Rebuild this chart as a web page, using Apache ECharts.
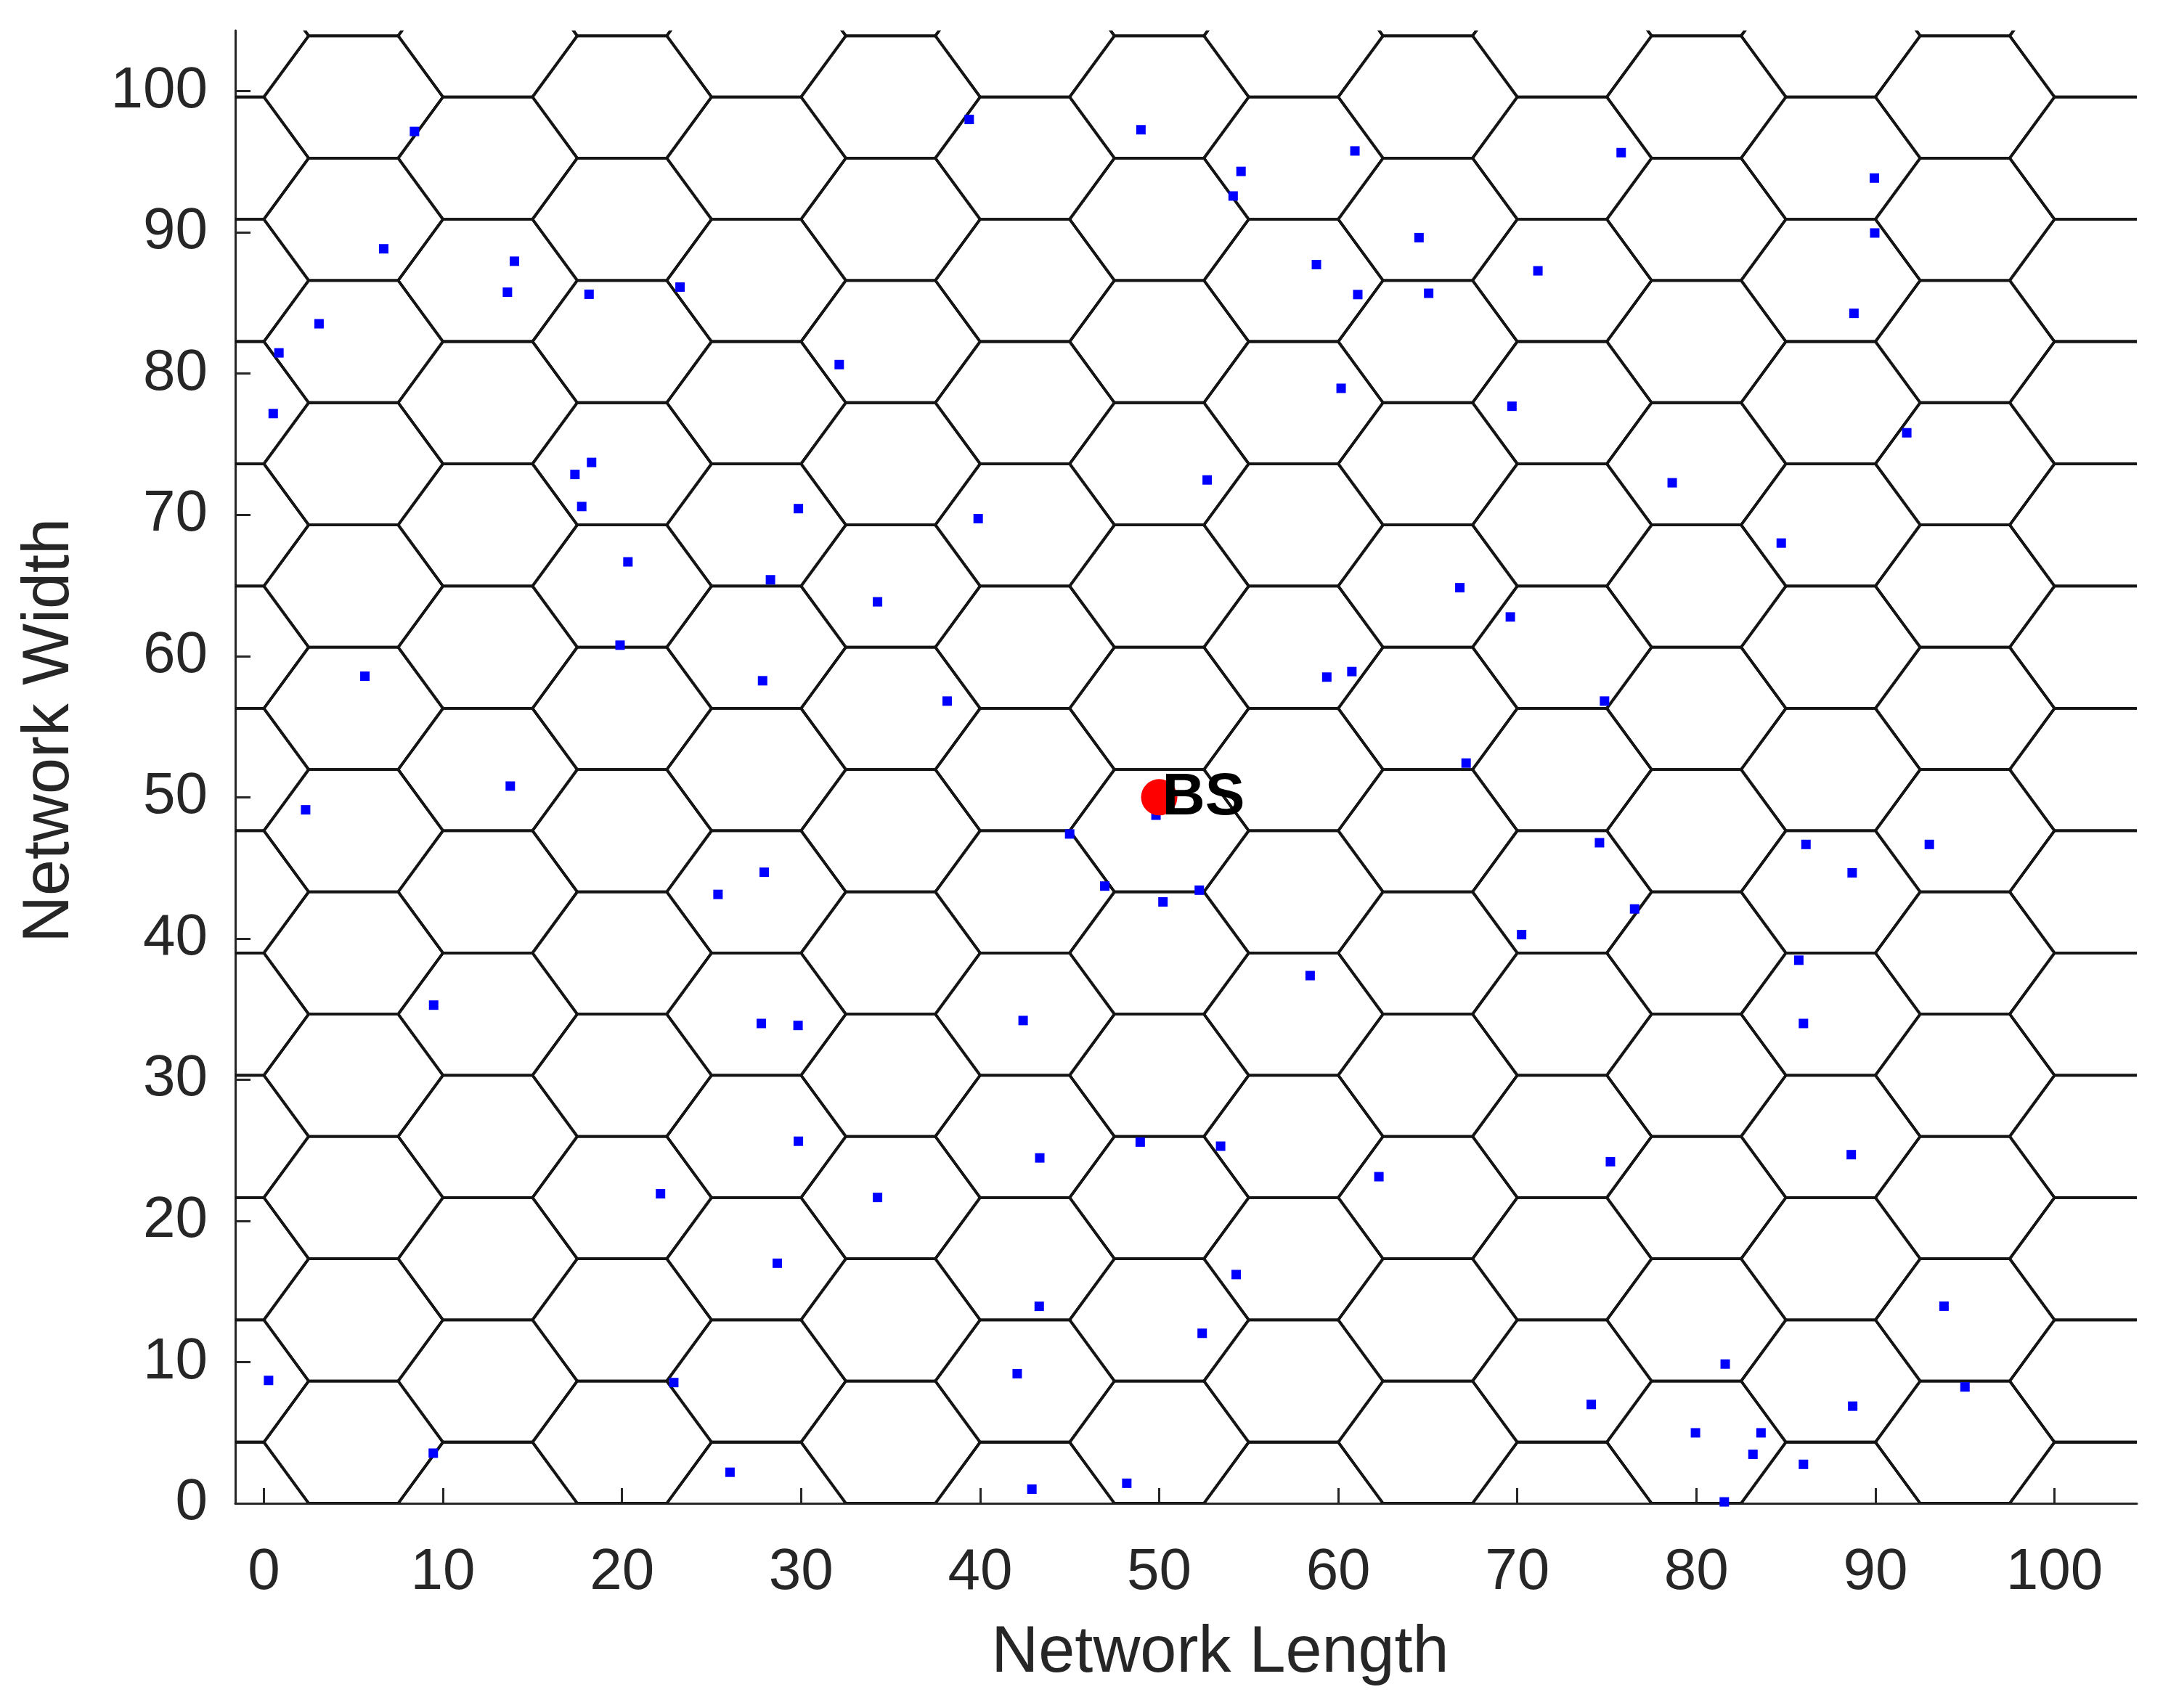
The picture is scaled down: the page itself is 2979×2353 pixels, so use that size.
<!DOCTYPE html>
<html>
<head>
<meta charset="utf-8">
<script src="https://cdn.jsdelivr.net/npm/echarts@6/dist/echarts.min.js"></script>
<style>
html,body{margin:0;padding:0;background:#fff;}
#chart{width:2979px;height:2353px;}
</style>
</head>
<body>
<div id="chart"></div>
<script>
// Sensor node positions
var nodeX = [8.41,6.69,13.99,13.60,18.16,23.24,3.08,0.84,32.13,0.52,18.30,17.37,17.75,29.85,20.33,28.29,34.27,19.89,
  39.39,48.98,60.93,54.57,54.13,64.51,58.78,61.09,65.05,60.16,69.70,52.68,39.89,66.79,69.61,
  75.80,89.94,89.96,71.15,88.80,91.75,78.65,84.74,
  5.64,27.85,13.76,2.33,27.94,25.36,9.48,27.78,29.83,29.85,22.15,34.27,
  38.16,59.36,60.76,67.14,49.82,45.00,46.96,52.24,50.21,70.24,58.43,42.40,48.94,53.43,43.33,62.27,
  74.87,74.59,86.12,93.01,88.70,76.55,85.72,85.98,75.20,88.65,
  28.67,0.26,22.89,9.46,26.03,54.30,43.30,52.40,42.07,48.19,42.89,
  93.83,81.61,95.00,74.13,88.73,79.95,83.61,83.16,85.98,81.56];
var nodeY = [97.15,88.84,87.96,85.77,85.62,86.13,83.53,81.47,80.64,77.17,73.71,72.86,70.59,70.44,66.67,65.40,63.84,60.77,
  98.00,97.27,95.77,94.32,92.58,89.63,87.72,85.60,85.69,78.96,77.69,72.47,69.73,64.84,62.77,
  95.65,93.85,89.96,87.28,84.27,75.81,72.27,68.00,
  58.57,58.25,50.79,49.11,44.69,43.12,35.28,33.98,33.84,25.64,21.92,21.66,
  56.81,58.51,58.90,52.42,48.73,47.40,43.71,43.42,42.59,40.27,37.37,34.19,25.58,25.29,24.46,23.13,
  56.81,46.78,46.66,46.66,44.65,42.09,38.46,33.98,24.19,24.69,
  17.00,8.70,8.55,3.55,2.20,16.20,13.95,12.04,9.18,1.42,1.00,
  13.96,9.86,8.24,7.00,6.88,4.99,4.99,3.47,2.76,0.10];
// Base station
var bsX = [50];
var bsY = [50];
var bsName = ['BS'];
// Tick labels
var tickValues = [0,10,20,30,40,50,60,70,80,90,100];
// Hexagonal cell layout (flat-topped cells, side length in data units)
var hexSide = 5;
var hexColumns = [-1,0,1,2,3,4,5,6,7,8,9,10,11,12,13,14];
var hexRows = [-1,0,1,2,3,4,5,6,7,8,9,10,11,12,13];

var hexCenters = [];
hexColumns.forEach(function(c){
  var cx = hexSide + 1.5*hexSide*c;
  var off = (Math.abs(c) % 2 === 0) ? hexSide*Math.sqrt(3)/2 : 0;
  hexRows.forEach(function(r){
    hexCenters.push([cx, off + r*hexSide*Math.sqrt(3)]);
  });
});
var nodes = nodeX.map(function(x,i){return [x, nodeY[i]];});
var bs = bsX.map(function(x,i){return [x, bsY[i], bsName[i]];});

var axisColor = '#262626';
var fontFam = '"Liberation Sans", Arial, Helvetica, sans-serif';

var chart = echarts.init(document.getElementById('chart'), null, {renderer:'canvas'});
chart.setOption({
  animation: false,
  backgroundColor: '#ffffff',
  grid: {left: 324, top: 42, width: 2619, height: 2029, containLabel: false},
  xAxis: {
    type: 'value', min: -1.6, max: 104.6,
    name: 'Network Length', nameLocation: 'middle', nameGap: 162,
    nameTextStyle: {fontSize: 90, color: axisColor, fontFamily: fontFam, padding: [0,0,0,94]},
    axisLine: {show: true, onZero: false, lineStyle: {color: axisColor, width: 3}},
    axisTick: {show: true, inside: true, length: 21, customValues: tickValues, lineStyle: {color: axisColor, width: 3}},
    axisLabel: {show: true, margin: 56, fontSize: 80, color: axisColor, fontFamily: fontFam, customValues: tickValues},
    splitLine: {show: false}
  },
  yAxis: {
    type: 'value', min: 0, max: 104.3,
    name: 'Network Width', nameLocation: 'middle', nameGap: 210, nameRotate: 90,
    nameTextStyle: {fontSize: 90, color: axisColor, fontFamily: fontFam, padding: [0,0,0,100]},
    axisLine: {show: true, onZero: false, lineStyle: {color: axisColor, width: 3}},
    axisTick: {show: true, inside: true, length: 21, customValues: tickValues, lineStyle: {color: axisColor, width: 3}},
    axisLabel: {show: true, margin: 38, fontSize: 80, color: axisColor, fontFamily: fontFam, customValues: tickValues},
    splitLine: {show: false}
  },
  series: [
    {
      type: 'custom',
      coordinateSystem: 'cartesian2d',
      clip: true,
      silent: true,
      z: 1,
      data: hexCenters,
      encode: {x: 0, y: 1},
      renderItem: function(params, api){
        var cx = api.value(0), cy = api.value(1);
        var pts = [];
        for (var a = 0; a < 6; a++) {
          var ang = Math.PI/3*a;
          pts.push(api.coord([cx + hexSide*Math.cos(ang), cy + hexSide*Math.sin(ang)]));
        }
        return {type: 'polygon', shape: {points: pts},
          style: {fill: null, stroke: '#151515', lineWidth: 3.8}};
      }
    },
    {
      type: 'scatter',
      z: 3,
      symbol: 'rect',
      symbolSize: 13,
      itemStyle: {color: '#0000ff', opacity: 1},
      data: nodes
    },
    {
      type: 'scatter',
      z: 4,
      symbol: 'circle',
      symbolSize: 50,
      itemStyle: {color: '#ff0000', opacity: 1},
      data: bs,
      label: {
        show: true,
        formatter: function(p){return p.value[2];},
        position: [29, 26],
        align: 'left',
        verticalAlign: 'middle',
        fontSize: 82,
        fontWeight: 'bold',
        color: '#000000',
        fontFamily: fontFam
      }
    }
  ]
});
</script>
</body>
</html>
